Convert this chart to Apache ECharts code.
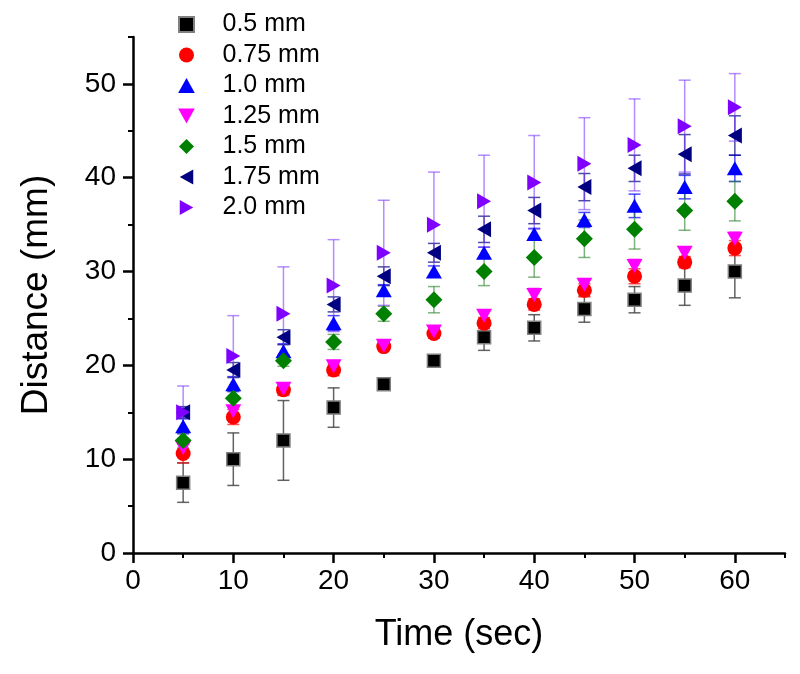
<!DOCTYPE html>
<html>
<head>
<meta charset="utf-8">
<script src="https://cdn.jsdelivr.net/npm/echarts@6/dist/echarts.min.js"></script>
<style>
html,body{margin:0;padding:0;background:#fff;}
#chart{width:800px;height:674px;}
</style>
</head>
<body>
<div id="chart"></div>
<script>
// ---- data ----
const times = [5, 10, 15, 20, 25, 30, 35, 40, 45, 50, 55, 60];
const seriesNames = ['0.5 mm', '0.75 mm', '1.0 mm', '1.25 mm', '1.5 mm', '1.75 mm', '2.0 mm'];

const d050 = [7.5, 10, 12, 15.5, 18, 20.5, 23, 24, 26, 27, 28.5, 30];
const d075 = [10.6, 14.5, 17.4, 19.5, 22, 23.4, 24.5, 26.5, 28, 29.5, 31, 32.5];
const d100 = [13.5, 18, 21.5, 24.5, 28, 30, 32, 34, 35.5, 37, 39, 41];
const d125 = [11.2, 15.1, 17.5, 19.9, 22.1, 23.6, 25.3, 27.5, 28.6, 30.6, 32, 33.5];
const d150 = [12, 16.5, 20.5, 22.5, 25.5, 27, 30, 31.5, 33.5, 34.5, 36.5, 37.5];
const d175 = [15, 19.5, 23, 26.5, 29.5, 32, 34.5, 36.5, 39, 41, 42.5, 44.5];
const d200 = [15, 21, 25.5, 28.5, 32, 35, 37.5, 39.5, 41.5, 43.5, 45.5, 47.5];

const e050 = [2.1, 2.8, 4.25, 2.1, 0.4, 0.4, 1.4, 1.4, 1.4, 1.4, 2.1, 2.8];
const e075 = [1.0, 0.8, 0.6, 0.6, 0.4, 0.5, 0.6, 0.6, 0.7, 0.8, 0.6, 0.8];
const e100 = [0.8, 0.8, 0.8, 0.8, 0.6, 0.6, 0.6, 0.6, 0.8, 1.25, 1.25, 1.4];
const e125 = [0.6, 0.6, 0.6, 0.6, 0.4, 0.5, 0.6, 0.7, 0.6, 0.7, 0.6, 0.7];
const e150 = [0.8, 0.8, 0.6, 0.8, 0.8, 1.4, 1.5, 2.1, 2.0, 2.1, 2.1, 2.1];
const e175 = [0.6, 0.8, 0.8, 0.8, 1.0, 1.0, 1.4, 1.4, 1.45, 1.4, 2.1, 2.1];
const e200 = [2.8, 4.3, 5.0, 4.9, 5.6, 5.6, 4.9, 5.0, 4.9, 4.9, 4.9, 3.6];

const xMajorTicks = [0, 10, 20, 30, 40, 50, 60];
const xMinorTicks = [5, 15, 25, 35, 45, 55, 65];
const yMajorTicks = [0, 10, 20, 30, 40, 50];
const yMinorTicks = [5, 15, 25, 35, 45, 55];

// ---- styles ----
const values = [d050, d075, d100, d125, d150, d175, d200];
const errors = [e050, e075, e100, e125, e150, e175, e200];
const colors = ['#000000', '#ff0000', '#0000ff', '#ff00ff', '#008000', '#000080', '#8000ff'];
const errColors = ['rgba(60,60,60,0.8)', 'rgba(255,0,0,0.7)', 'rgba(0,0,255,0.7)', 'rgba(255,0,255,0.7)',
                   'rgba(40,128,40,0.6)', 'rgba(0,0,128,0.7)', 'rgba(128,64,255,0.6)'];
const symbols = ['path://M0,0 L10,0 L10,10 L0,10 Z', 'circle', 'path://M5,0 L10,9 L0,9 Z', 'path://M0,0 L10,0 L5,9 Z',
                 'path://M5,0 L10,5 L5,10 L0,5 Z', 'path://M9,0 L9,10 L0,5 Z', 'path://M0,0 L9,5 L0,10 Z'];
const sizes = [13, 15, [16, 14], [16, 14], 17, [14, 16], [14, 16]];

function errRenderer(color) {
  return function (params, api) {
    const x = api.value(0), lo = api.value(1), hi = api.value(2);
    const top = api.coord([x, hi]);
    const bot = api.coord([x, lo]);
    const hw = 6;
    const st = { stroke: color, lineWidth: 1.5 };
    return {
      type: 'group',
      children: [
        { type: 'line', shape: { x1: top[0], y1: top[1], x2: bot[0], y2: bot[1] }, style: st },
        { type: 'line', shape: { x1: top[0] - hw, y1: top[1], x2: top[0] + hw, y2: top[1] }, style: st },
        { type: 'line', shape: { x1: bot[0] - hw, y1: bot[1], x2: bot[0] + hw, y2: bot[1] }, style: st }
      ]
    };
  };
}

const series = [];
seriesNames.forEach((name, i) => {
  series.push({
    name: name + ' err',
    type: 'custom',
    renderItem: errRenderer(errColors[i]),
    encode: { x: 0, y: [1, 2] },
    data: times.map((t, k) => [t, values[i][k] - errors[i][k], values[i][k] + errors[i][k]]),
    silent: true
  });
  series.push({
    name: name,
    type: 'scatter',
    symbol: symbols[i],
    symbolSize: sizes[i],
    itemStyle: i === 0 ? { color: colors[i], borderColor: '#808080', borderWidth: 1.5, opacity: 1 }
                       : { color: colors[i], opacity: 1 },
    data: times.map((t, k) => [t, values[i][k]])
  });
});

const font = 'Liberation Sans, Arial, sans-serif';
const chart = echarts.init(document.getElementById('chart'), null, { renderer: 'canvas' });
chart.setOption({
  animation: false,
  backgroundColor: '#ffffff',
  grid: { left: 133, right: 15, top: 37, bottom: 121, containLabel: false },
  legend: {
    data: seriesNames,
    orient: 'vertical',
    left: 173,
    top: 7,
    itemWidth: 62,
    itemHeight: 15,
    itemGap: 5.5,
    symbolKeepAspect: true,
    textStyle: { fontFamily: font, fontSize: 25, lineHeight: 24, color: '#000' }
  },
  xAxis: [
    {
      type: 'value', min: 0, max: 65,
      name: 'Time (sec)', nameLocation: 'middle', nameGap: 64,
      nameTextStyle: { fontFamily: font, fontSize: 36, color: '#000' },
      axisLine: { show: true, lineStyle: { color: '#000', width: 2.5 } },
      axisTick: { show: true, inside: false, length: 10, lineStyle: { color: '#000', width: 2.5 }, customValues: xMajorTicks },
      axisLabel: { fontFamily: font, fontSize: 28, color: '#000', margin: 14, customValues: xMajorTicks },
      splitLine: { show: false }
    },
    {
      type: 'value', min: 0, max: 65, position: 'bottom',
      axisLine: { show: false },
      axisTick: { show: true, inside: false, length: 5, lineStyle: { color: '#000', width: 2 }, customValues: xMinorTicks },
      axisLabel: { show: false },
      splitLine: { show: false }
    }
  ],
  yAxis: [
    {
      type: 'value', min: 0, max: 55,
      name: 'Distance (mm)', nameLocation: 'middle', nameGap: 78,
      nameTextStyle: { fontFamily: font, fontSize: 37, color: '#000' },
      axisLine: { show: true, lineStyle: { color: '#000', width: 2.5 } },
      axisTick: { show: true, inside: false, length: 10, lineStyle: { color: '#000', width: 2.5 }, customValues: yMajorTicks },
      axisLabel: { fontFamily: font, fontSize: 28, color: '#000', margin: 17, customValues: yMajorTicks },
      splitLine: { show: false }
    },
    {
      type: 'value', min: 0, max: 55, position: 'left',
      axisLine: { show: false },
      axisTick: { show: true, inside: false, length: 5, lineStyle: { color: '#000', width: 2 }, customValues: yMinorTicks },
      axisLabel: { show: false },
      splitLine: { show: false }
    }
  ],
  series: series
});
</script>
</body>
</html>
